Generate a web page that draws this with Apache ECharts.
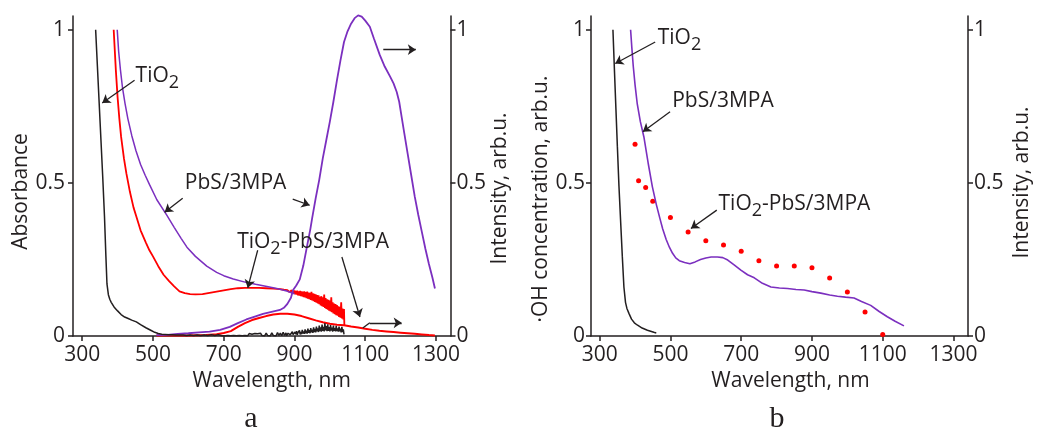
<!DOCTYPE html>
<html>
<head>
<meta charset="utf-8">
<script src="https://cdn.jsdelivr.net/npm/echarts@6/dist/echarts.min.js"></script>
<style>
  html, body { margin: 0; padding: 0; background: #fff; }
  #chart { width: 1039px; height: 431px; }
</style>
</head>
<body>
<div id="chart"></div>
<script>
// ---- panel a : absorbance (left axis) and PL intensity (right axis) ----
var tio2AbsNm = [338, 343, 348, 353, 358, 363, 367, 370, 374, 378, 382, 390, 400, 410, 420, 430, 440, 453, 465, 480, 495, 505, 515,
    525, 535, 545, 555, 565, 575, 585, 595, 605, 615, 625, 635, 645, 655, 665, 675, 685, 695,
    700, 704, 708, 712, 716, 720, 724, 728, 732, 736, 740, 744, 748, 752, 756, 760, 764, 768, 772, 776,
    780, 784, 788, 792, 796, 800, 804, 808, 812, 816, 820, 824, 828, 832, 836, 840, 844, 848, 852, 856,
    860, 864, 868, 872, 876, 878,
    880, 882, 884, 886, 888, 890, 892, 894, 896, 898,
    900, 902, 904, 906, 908, 910, 912, 914, 916, 918,
    920, 922, 924, 926, 928, 930, 932, 934, 936, 938,
    940, 942, 944, 946, 948, 950, 952, 954, 956, 958,
    960, 962, 964, 966, 968, 970, 972, 974, 976, 978,
    980, 982, 984, 986, 988, 990, 992, 994, 996, 998,
    1000, 1002, 1004, 1006, 1008, 1010, 1012, 1014, 1016, 1018,
    1020, 1022, 1024, 1026, 1028, 1030, 1032, 1034, 1036, 1038,
    1040];
var tio2AbsVal = [1.0, 0.88, 0.76, 0.64, 0.52, 0.39, 0.26, 0.17, 0.135, 0.12, 0.11, 0.095, 0.082, 0.07, 0.062, 0.057, 0.052, 0.046, 0.037, 0.027, 0.018, 0.012, 0.008,
    0.006, 0.005, 0.004, 0.004, 0.003, 0.003, 0.003, 0.002, 0.003, 0.002, 0.003, 0.002, 0.003, 0.002, 0.004, 0.002, 0.004, 0.001,
    0.005, 0.001, 0.005, 0.002, 0.006, 0.001, 0.005, 0.002, 0.006, 0.001, 0.007, 0.002, 0.005, 0.001, 0.007, 0.002, 0.006, 0.001, 0.008, 0.002,
    0.006, 0.001, 0.008, 0.002, 0.007, 0.001, 0.009, 0.002, 0.007, 0.001, 0.009, 0.002, 0.008, 0.001, 0.010, 0.002, 0.008, 0.001, 0.011, 0.002,
    0.009, 0.001, 0.012, 0.002, 0.010, 0.001,
    0.002, 0.009, 0.003, 0.012, 0.004, 0.008, 0.002, 0.014, 0.005, 0.010,
    0.003, 0.013, 0.006, 0.016, 0.004, 0.011, 0.007, 0.018, 0.005, 0.013,
    0.006, 0.020, 0.008, 0.015, 0.007, 0.022, 0.009, 0.017, 0.008, 0.024,
    0.010, 0.019, 0.009, 0.026, 0.012, 0.021, 0.010, 0.028, 0.013, 0.023,
    0.012, 0.031, 0.015, 0.025, 0.013, 0.034, 0.016, 0.028, 0.014, 0.037,
    0.017, 0.030, 0.015, 0.042, 0.018, 0.032, 0.016, 0.038, 0.017, 0.029,
    0.015, 0.036, 0.018, 0.027, 0.014, 0.034, 0.017, 0.026, 0.015, 0.033,
    0.016, 0.025, 0.014, 0.031, 0.015, 0.024, 0.012, 0.030, 0.013, 0.022,
    0.005];

var mixAbsNm = [389, 395, 400, 405, 410, 418, 425, 435, 445, 453, 465, 480, 490, 500, 515, 530, 545, 560, 575, 590,
    605, 620, 640, 660, 680, 700, 720, 740, 760, 780, 800, 820, 840, 860, 870,
    880, 882, 884, 886, 888, 890, 892, 894, 896, 898,
    900, 902, 904, 906, 908, 910, 912, 914, 916, 918,
    920, 922, 924, 926, 928, 930, 932, 934, 936, 938,
    940, 942, 944, 946, 948, 950, 952, 954, 956, 958,
    960, 962, 964, 966, 968, 970, 972, 974, 976, 978,
    980, 982, 984, 986, 988, 990, 992, 994, 996, 998,
    1000, 1002, 1004, 1006, 1008, 1010, 1012, 1014, 1016, 1018,
    1020, 1022, 1024, 1026, 1028, 1030, 1032, 1034, 1036, 1038,
    1040, 1041];
var mixAbsVal = [1.0, 0.87, 0.78, 0.71, 0.65, 0.58, 0.53, 0.47, 0.42, 0.39, 0.345, 0.305, 0.28, 0.26, 0.228, 0.2, 0.18, 0.162, 0.146, 0.14,
    0.137, 0.136, 0.137, 0.141, 0.145, 0.149, 0.153, 0.156, 0.157, 0.157, 0.157, 0.156, 0.155, 0.153, 0.151,
    0.150, 0.144, 0.151, 0.143, 0.149, 0.141, 0.150, 0.139, 0.148, 0.138,
    0.149, 0.136, 0.147, 0.135, 0.148, 0.133, 0.146, 0.132, 0.147, 0.130,
    0.146, 0.129, 0.145, 0.127, 0.146, 0.126, 0.143, 0.124, 0.145, 0.122,
    0.142, 0.120, 0.141, 0.118, 0.144, 0.116, 0.139, 0.114, 0.138, 0.111,
    0.136, 0.109, 0.134, 0.106, 0.133, 0.104, 0.128, 0.100, 0.130, 0.097,
    0.126, 0.095, 0.135, 0.092, 0.124, 0.088, 0.120, 0.086, 0.118, 0.083,
    0.116, 0.080, 0.126, 0.078, 0.110, 0.074, 0.106, 0.071, 0.104, 0.068,
    0.101, 0.066, 0.097, 0.062, 0.095, 0.060, 0.110, 0.057, 0.090, 0.054,
    0.088, 0.035];

var mixPlNm = [510, 550, 600, 650, 680, 700, 720, 740, 760, 780, 800, 820, 840, 860, 880, 900, 920, 940, 960, 980,
    1000, 1020, 1040, 1060, 1080, 1100, 1120, 1140, 1160, 1180, 1200, 1220, 1240, 1260, 1280, 1297];
var mixPlVal = [0.002, 0.002, 0.002, 0.003, 0.006, 0.01, 0.016, 0.03, 0.042, 0.052, 0.059, 0.065, 0.07, 0.073, 0.073, 0.07, 0.065, 0.058, 0.051, 0.045,
    0.04, 0.037, 0.035, 0.031, 0.028, 0.024, 0.02, 0.017, 0.015, 0.013, 0.011, 0.009, 0.007, 0.005, 0.003, 0.002];

var pbsAbsNm = [399, 403, 408, 414, 421, 429, 440, 452, 465, 478, 490, 511, 539, 560, 580, 596, 620, 652, 680, 700,
    727, 760, 790, 822, 850, 878, 900];
var pbsAbsVal = [1.0, 0.93, 0.87, 0.81, 0.76, 0.71, 0.655, 0.605, 0.56, 0.525, 0.495, 0.445, 0.395, 0.355, 0.318, 0.29, 0.26, 0.228, 0.208, 0.197,
    0.186, 0.176, 0.169, 0.162, 0.155, 0.147, 0.138];

var pbsPlNm = [510, 540, 570, 600, 630, 660, 690, 717, 740, 764,
    790, 811, 835, 859, 870, 880, 890, 896, 905, 915,
    925, 935, 945, 950, 960, 970, 980, 990, 1000, 1010,
    1020, 1030, 1040, 1050, 1060, 1070, 1080, 1090, 1100, 1113,
    1125, 1141, 1155, 1170, 1180, 1189, 1196, 1203, 1210, 1220,
    1230, 1240, 1250, 1260, 1270, 1280, 1290, 1297];
var pbsPlVal = [0.003, 0.004, 0.007, 0.009, 0.012, 0.014, 0.02, 0.03, 0.042, 0.054,
    0.064, 0.072, 0.079, 0.085, 0.092, 0.105, 0.125, 0.15, 0.165, 0.185,
    0.23, 0.29, 0.35, 0.385, 0.45, 0.51, 0.58, 0.64, 0.70, 0.765,
    0.835, 0.90, 0.96, 0.995, 1.02, 1.038, 1.047, 1.043, 1.03, 1.01,
    0.97, 0.918, 0.88, 0.848, 0.825, 0.797, 0.765, 0.715, 0.665, 0.595,
    0.525, 0.455, 0.395, 0.34, 0.285, 0.235, 0.19, 0.155];

// ---- panel b : OH concentration (dots) and absorbance ----
var tio2BNm = [337.5, 342, 346, 350, 354.5, 359, 364, 368.5, 373, 377, 382.7, 390, 398, 406, 420, 435, 453, 460];
var tio2BVal = [1.0, 0.86, 0.74, 0.62, 0.49, 0.38, 0.26, 0.16, 0.11, 0.09, 0.074, 0.055, 0.043, 0.036, 0.026, 0.019, 0.012, 0.01];

var pbsBNm = [387.4, 391, 395, 400, 406, 415, 425, 437, 449, 460,
    470, 478, 488, 497, 506, 515, 525, 540, 555, 570,
    585, 600, 615, 633, 648, 662, 680, 699, 718, 737,
    760, 784, 808, 831, 855, 878, 900, 925, 950, 972,
    995, 1019, 1040, 1066, 1090, 1113, 1135, 1160];
var pbsBVal = [1.0, 0.94, 0.88, 0.82, 0.76, 0.70, 0.65, 0.565, 0.487, 0.43,
    0.385, 0.35, 0.315, 0.29, 0.27, 0.255, 0.246, 0.24, 0.236, 0.242,
    0.25, 0.255, 0.258, 0.258, 0.256, 0.248, 0.232, 0.215, 0.2, 0.19,
    0.172, 0.16, 0.157, 0.155, 0.152, 0.15, 0.145, 0.14, 0.134, 0.13,
    0.127, 0.124, 0.113, 0.1, 0.08, 0.063, 0.048, 0.033];

var ohNm = [400, 410, 430, 450, 500, 550, 600, 650, 700, 750, 800, 850, 900, 950, 1000, 1050, 1100];
var ohVal = [0.626, 0.507, 0.485, 0.44, 0.387, 0.34, 0.311, 0.297, 0.277, 0.246, 0.229, 0.229, 0.223, 0.189, 0.144, 0.078, 0.005];

var xTicks = [300, 500, 700, 900, 1100, 1300];
var yTicks = [0, 0.5, 1];

// annotation layout (data coordinates)
var labelsA = [
    {text: '{m|TiO}{s|2}', at: [451, 0.848]},
    {text: '{m|PbS/3MPA}', at: [590, 0.5]},
    {text: '{m|TiO}{s|2}{m|-PbS/3MPA}', at: [738, 0.307]}
];
var arrowsA = [
    {from: [448, 0.835], to: [356.6, 0.761]},
    {from: [584, 0.45], to: [533, 0.404]},
    {from: [895, 0.447], to: [943, 0.427]},
    {from: [796, 0.28], to: [768, 0.157]},
    {from: [1034, 0.258], to: [1085, 0.062]},
    {from: [1151, 0.935], to: [1243, 0.935]},
    {from: [1093, 0.026], to: [1113, 0.043], noHead: true},
    {from: [1113, 0.043], to: [1203, 0.043]}
];
var labelsB = [
    {text: '{m|TiO}{s|2}', at: [464, 0.974]},
    {text: '{m|PbS/3MPA}', at: [505, 0.768]},
    {text: '{m|TiO}{s|2}{m|-PbS/3MPA}', at: [636, 0.432]}
];
var arrowsB = [
    {from: [457, 0.96], to: [344, 0.89]},
    {from: [499, 0.732], to: [422, 0.667]},
    {from: [631, 0.411], to: [558, 0.351]}
];

var FONT = '"Open Sans", sans-serif';
var INK = '#231f20';
var RED = '#ff0000';
var PURPLE = '#7b2fbf';

function zip(xs, ys) {
    var out = [];
    for (var i = 0; i < xs.length; i++) {
        out.push([xs[i], ys[i]]);
    }
    return out;
}

function plain(v) {
    return String(v);
}

function makeX(grid, min, max, pad) {
    return {
        type: 'value', gridIndex: grid, min: min, max: max,
        name: 'Wavelength, nm', nameLocation: 'middle', nameGap: 30,
        nameTextStyle: {fontFamily: FONT, fontSize: 21, color: INK, padding: [0, 0, 0, pad]},
        axisLine: {show: true, onZero: false, lineStyle: {color: INK, width: 1.5}},
        axisTick: {show: true, length: 5, customValues: xTicks, lineStyle: {color: INK, width: 1.5}},
        axisLabel: {customValues: xTicks, formatter: plain, margin: 9, fontFamily: FONT, fontSize: 21, color: INK},
        splitLine: {show: false}
    };
}

function makeY(grid, pos, name, gap, pad, margin) {
    return {
        type: 'value', gridIndex: grid, position: pos, min: 0, max: 1.045,
        name: name, nameLocation: 'middle', nameGap: gap, nameRotate: 90,
        nameTextStyle: {fontFamily: FONT, fontSize: 21, color: INK, padding: [0, pad, 0, 0]},
        axisLine: {show: true, lineStyle: {color: INK, width: 1.5}},
        axisTick: {show: true, length: 5, customValues: yTicks, lineStyle: {color: INK, width: 1.5}},
        axisLabel: {customValues: yTicks, formatter: plain, margin: margin, fontFamily: FONT, fontSize: 21, color: INK},
        splitLine: {show: false}
    };
}

function lineSeries(xi, yi, xs, ys, color, width) {
    return {
        type: 'line', xAxisIndex: xi, yAxisIndex: yi, data: zip(xs, ys),
        showSymbol: false, symbol: 'none', silent: true, clip: false,
        lineStyle: {color: color, width: width}, itemStyle: {color: color}
    };
}

var rich = {
    m: {fontFamily: FONT, fontSize: 21, color: INK, lineHeight: 24},
    s: {fontFamily: FONT, fontSize: 18, color: INK, lineHeight: 24, padding: [14, 0, 0, 0]}
};

function annotations(labels, arrows) {
    return {
        markLine: {
            silent: true, animation: false, symbol: ['none', 'arrow'], symbolSize: 8,
            label: {show: false}, emphasis: {disabled: true},
            lineStyle: {color: INK, width: 1.3, type: 'solid'},
            data: arrows.map(function (a) {
                return [{coord: a.from, symbol: 'none'}, {coord: a.to, symbol: a.noHead ? 'none' : 'arrow'}];
            })
        },
        markPoint: {
            silent: true, animation: false, symbol: 'circle', symbolSize: 0,
            itemStyle: {color: 'transparent'},
            label: {show: true, position: [0, 0], align: 'left', verticalAlign: 'middle', rich: rich},
            data: labels.map(function (l) {
                return {coord: l.at, value: 0, label: {formatter: l.text}};
            })
        }
    };
}

var chart = echarts.init(document.getElementById('chart'), null, {renderer: 'canvas'});

var blackA = lineSeries(0, 0, tio2AbsNm, tio2AbsVal, INK, 1.5);
var annA = annotations(labelsA, arrowsA);
blackA.markLine = annA.markLine;
blackA.markPoint = annA.markPoint;

var blackB = lineSeries(1, 2, tio2BNm, tio2BVal, INK, 1.5);
var annB = annotations(labelsB, arrowsB);
blackB.markLine = annB.markLine;
blackB.markPoint = annB.markPoint;

chart.setOption({
    animation: false,
    backgroundColor: '#fff',
    grid: [
        {left: 73, top: 16, width: 377.5, height: 320},
        {left: 591, top: 16, width: 377, height: 320}
    ],
    xAxis: [
        makeX(0, 274, 1341, 20),
        makeX(1, 275.5, 1341, 22)
    ],
    yAxis: [
        makeY(0, 'left', 'Absorbance', 40, 31, 8),
        makeY(0, 'right', 'Intensity, arb.u.', 34, 25, 6),
        makeY(1, 'left', '\u00B7OH concentration, arb.u.', 39, 46, 6),
        makeY(1, 'right', 'Intensity, arb.u.', 44, 13, 6)
    ],
    series: [
        lineSeries(0, 0, mixAbsNm, mixAbsVal, RED, 1.8),
        lineSeries(0, 1, mixPlNm, mixPlVal, RED, 2),
        lineSeries(0, 0, pbsAbsNm, pbsAbsVal, PURPLE, 1.5),
        lineSeries(0, 1, pbsPlNm, pbsPlVal, PURPLE, 1.8),
        blackA,
        lineSeries(1, 3, pbsBNm, pbsBVal, PURPLE, 1.6),
        blackB,
        {
            type: 'scatter', xAxisIndex: 1, yAxisIndex: 2, data: zip(ohNm, ohVal),
            symbol: 'circle', symbolSize: 5, silent: true, itemStyle: {color: RED, opacity: 1}
        }
    ],
    graphic: [
        {type: 'text', x: 251, y: 419, style: {text: 'a', font: '30px "Liberation Serif", serif', fill: INK,
            align: 'center', verticalAlign: 'middle', textAlign: 'center', textVerticalAlign: 'middle'}},
        {type: 'text', x: 777, y: 419, style: {text: 'b', font: '30px "Liberation Serif", serif', fill: INK,
            align: 'center', verticalAlign: 'middle', textAlign: 'center', textVerticalAlign: 'middle'}}
    ]
});
</script>
</body>
</html>
